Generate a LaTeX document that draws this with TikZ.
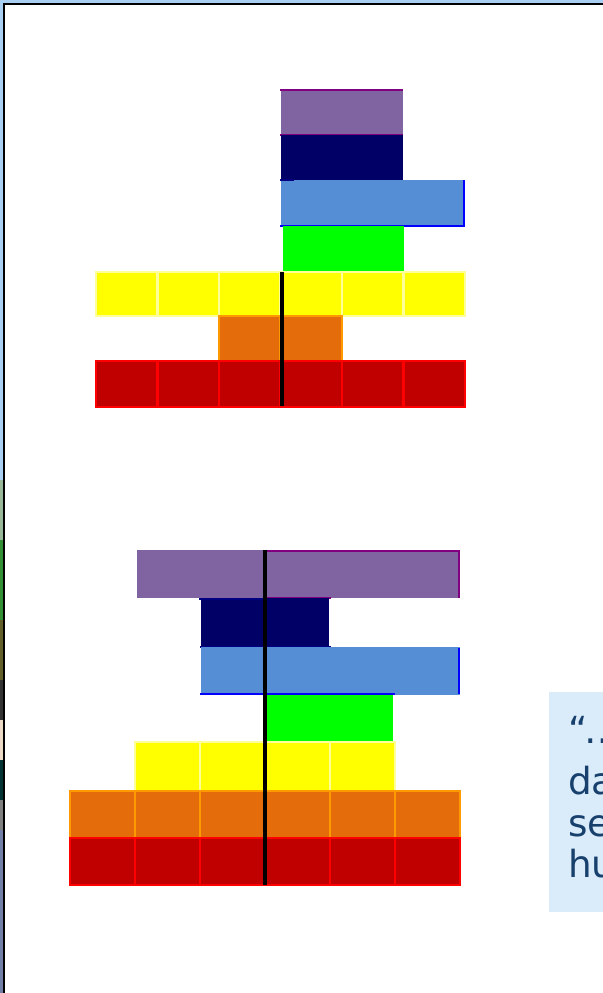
\documentclass[tikz,border=0pt]{standalone}
\usepackage{fontspec}
\newfontfamily\quotefont{DejaVu Sans}
\usetikzlibrary{positioning}

\definecolor{frameblue}{HTML}{A9CFF2}
\definecolor{purplefill}{HTML}{8064A2}
\definecolor{purpleline}{HTML}{800080}
\definecolor{navyfill}{HTML}{000066}
\definecolor{navyline}{HTML}{000080}
\definecolor{skyfill}{HTML}{558ED5}
\definecolor{skyline}{HTML}{0000FF}
\definecolor{greenfill}{HTML}{00FF00}
\definecolor{yellowfill}{HTML}{FFFF00}
\definecolor{yellowline}{HTML}{FFFF99}
\definecolor{orangefill}{HTML}{E46C0A}
\definecolor{orangeline}{HTML}{FF9900}
\definecolor{redfill}{HTML}{C00000}
\definecolor{redline}{HTML}{FF0000}
\definecolor{quotefill}{HTML}{DAEBFA}
\definecolor{quoteink}{HTML}{17406D}

\begin{document}
\begin{tikzpicture}[x=0.75pt, y=-0.75pt,
        cell/.style={line width=2pt},
        edge/.style={line width=2.2pt},
        axis/.style={line width=2.6pt, draw=black},
        quotebox/.style={rectangle, fill=quotefill, inner sep=0pt, minimum width=80pt, minimum height=165pt},
        quoteline/.style={font=\quotefont\fontsize{28}{32}\selectfont, text=quoteink, inner sep=0pt, anchor=base west}
    ]
        \useasboundingbox (0,0) rectangle (603,993);

        % slide frame and photo strip on the left
        \fill[frameblue] (0,0) rectangle (603,993);
        \fill[white] (5,5) rectangle (603,993);
        \fill[black!70!green!40] (0,480) rectangle (4,540);
        \fill[green!45!black!80] (0,540) rectangle (4,620);
        \fill[olive!60!black] (0,620) rectangle (4,680);
        \fill[black!80] (0,680) rectangle (4,720);
        \fill[brown!30!white] (0,720) rectangle (4,760);
        \fill[teal!40!black] (0,760) rectangle (4,800);
        \fill[gray] (0,800) rectangle (4,830);
        \fill[cyan!40!blue!60!black!70] (0,830) rectangle (4,993);
        \draw[line width=1.6pt] (4,993) -- (4,4) -- (603,4);

        % upper chart
        \fill[purplefill] (281,89) rectangle (403,135);
        \draw[edge, purpleline] (280,90) -- (403,90);
        \draw[edge, purpleline] (280,135) -- (403,135);
        \fill[navyfill] (281,135) rectangle (403,180);
        \fill[skyfill] (281,180) rectangle (464,226);
        \draw[edge, navyline] (280,180) -- (294,180);
        \draw[edge, skyline] (280,226) -- (464,226) -- (464,180);
        \fill[greenfill] (283,226) rectangle (404,272);
        \foreach \i in {0,...,5}
            \filldraw[cell, fill=yellowfill, draw=yellowline] ({96+61.5*\i},272) rectangle ++(61.5,44);
        \foreach \i in {2,3}
            \filldraw[cell, fill=orangefill, draw=orangeline] ({96+61.5*\i},316) rectangle ++(61.5,45);
        \foreach \i in {0,...,5}
            \filldraw[cell, fill=redfill, draw=redline] ({96+61.5*\i},361) rectangle ++(61.5,46);
        \draw[axis] (282,272) -- (282,406);

        % lower chart
        \fill[purplefill] (137,550) rectangle (460,598);
        \draw[edge, purpleline] (263,551) -- (459,551) -- (459,598);
        \draw[edge, purpleline] (263,598) -- (331,598);
        \fill[navyfill] (201,598) rectangle (329,647);
        \draw[edge, navyline] (199,599) -- (263,599);
        \draw[edge, navyline] (200,647) -- (331,647);
        \fill[skyfill] (201,647) rectangle (460,695);
        \draw[edge, skyline] (459,648) -- (459,694);
        \draw[edge, skyline] (200,694) -- (395,694);
        \fill[greenfill] (265,695) rectangle (393,742);
        \draw[edge, greenfill] (198,742) -- (395,742);
        \foreach \i in {1,...,4}
            \filldraw[cell, fill=yellowfill, draw=yellowline] ({70+65*\i},742) rectangle ++(65,49);
        \foreach \i in {0,...,5}
            \filldraw[cell, fill=orangefill, draw=orangeline] ({70+65*\i},791) rectangle ++(65,47);
        \foreach \i in {0,...,5}
            \filldraw[cell, fill=redfill, draw=redline] ({70+65*\i},838) rectangle ++(65,47);
        \draw[axis] (265,550) -- (265,885);

        % quotation box, cut off at the right edge
        \node[quotebox, anchor=north west] (quote) at (549,692) {};
        \node[quoteline] (quotedots) at (568,743) {“\kern-2pt…};
        \node[quoteline] (quoteda) at (568,794) {da};
        \node[quoteline] (quotese) at (568,836) {se};
        \node[quoteline] (quotehu) at (568,877) {hu};
    \end{tikzpicture}
\end{document}
